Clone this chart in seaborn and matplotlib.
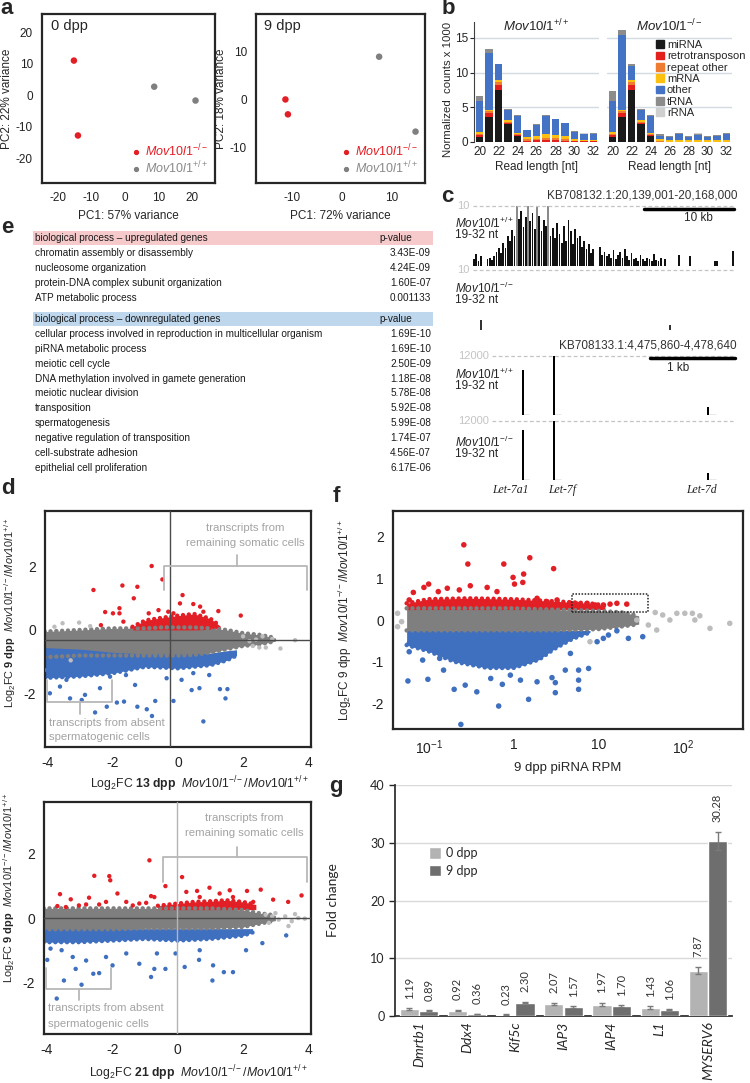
import numpy as np
import pandas as pd
import seaborn as sns
import matplotlib.pyplot as plt
from matplotlib.lines import Line2D
from matplotlib.patches import Patch, Rectangle
from matplotlib import font_manager

# ---------------- 数据 ----------------
# a: PCA
pca0_pc1 = [-15.2, -14.0, 8.7, 21.0]
pca0_pc2 = [11.0, -12.8, 2.7, -1.7]
pca9_pc1 = [-11.3, -10.8, 7.5, 14.8]
pca9_pc2 = [0.1, -3.0, 9.0, -6.6]
pca_geno = ['ko', 'ko', 'wt', 'wt']

# b: small RNA read length distribution (segment heights, x1000)
read_len = list(range(20, 33))
rna_cats = ['miRNA', 'retrotransposon', 'repeat other', 'mRNA', 'other', 'tRNA', 'rRNA']
rna_colors = ['#1a1a1a', '#e3211c', '#ee7d31', '#fdc010', '#4472c4', '#8c8c8c', '#cfcfcf']
wt_counts = {
    'miRNA':           [0.7, 3.6, 7.5, 2.6, 0.8, 0.05, 0.05, 0.05, 0.05, 0.05, 0.05, 0.05, 0.05],
    'retrotransposon': [0.3, 0.6, 0.7, 0.2, 0.2, 0.15, 0.25, 0.25, 0.25, 0.15, 0.05, 0.05, 0.05],
    'repeat other':    [0.2, 0.2, 0.5, 0.1, 0.1, 0.2, 0.2, 0.3, 0.3, 0.2, 0.1, 0.05, 0.05],
    'mRNA':            [0.2, 0.2, 0.3, 0.2, 0.2, 0.3, 0.4, 0.5, 0.4, 0.4, 0.2, 0.15, 0.15],
    'other':           [4.5, 8.3, 2.2, 1.5, 2.5, 1.0, 1.6, 2.7, 2.3, 1.9, 1.1, 0.8, 0.8],
    'tRNA':            [0.8, 0.5, 0.1, 0.1, 0.05, 0.05, 0.05, 0.05, 0.05, 0.1, 0.1, 0.1, 0.2],
    'rRNA':            [0, 0, 0, 0, 0, 0, 0, 0, 0, 0, 0, 0.05, 0.05],
}
ko_counts = {
    'miRNA':           [0.7, 3.6, 7.5, 2.6, 0.8, 0, 0, 0, 0, 0, 0, 0, 0],
    'retrotransposon': [0.3, 0.6, 0.7, 0.2, 0.2, 0.05, 0.02, 0.02, 0.02, 0.02, 0.02, 0.02, 0.02],
    'repeat other':    [0.2, 0.2, 0.5, 0.1, 0.1, 0.15, 0.05, 0.05, 0.05, 0.05, 0.05, 0.05, 0.05],
    'mRNA':            [0.2, 0.2, 0.3, 0.2, 0.2, 0.2, 0.2, 0.25, 0.2, 0.2, 0.2, 0.2, 0.2],
    'other':           [4.5, 10.8, 2.0, 1.5, 2.5, 0.5, 0.5, 0.85, 0.5, 0.7, 0.45, 0.55, 0.85],
    'tRNA':            [1.5, 0.8, 0.2, 0.1, 0.05, 0.2, 0.15, 0.15, 0.15, 0.15, 0.1, 0.15, 0.15],
    'rRNA':            [0, 0, 0, 0, 0, 0, 0, 0, 0, 0.15, 0, 0.05, 0.05],
}

# c: coverage tracks
cov1_kb = [i * 0.25 for i in range(116)]
cov1_wt = [1.2, 2.0, 0.8, 1.6, 0, 0, 1.2, 1.4, 1.0, 1.6, 2.4, 3.0,
           2.2, 3.8, 3.0, 5.0, 4.2, 6.0, 5.0, 10, 7.8, 9.2, 6.5, 8.2,
           10, 7.5, 8.8, 6.2, 10, 8.4, 5.8, 7.6, 6.6, 10, 5.0, 6.4,
           4.6, 7.2, 5.4, 3.8, 6.6, 4.2, 7.6, 5.8, 3.6, 6.2, 4.6, 5.0,
           3.2, 4.2, 2.8, 3.6, 2.2, 2.8, 0, 0, 3.1, 1.8, 2.4, 1.6,
           2.0, 1.4, 2.6, 1.2, 1.8, 2.4, 1.4, 2.8, 1.6, 1.0, 2.2, 1.2,
           1.4, 0.8, 1.8, 1.2, 0.9, 1.4, 1.1, 0.8, 2.0, 1.0, 0.8, 1.4,
           0, 1.2, 0, 0, 0, 0, 0, 1.9, 0, 0, 0, 0,
           1.6, 0, 0, 0, 0, 0, 0, 0, 0, 0, 0, 0.9,
           0.8, 0, 0, 0, 0, 0, 0, 2.5]
cov1_ko_kb = [0.9, 21.9]
cov1_ko = [1.7, 0.8]
let7_names = ['Let-7a1', 'Let-7f', 'Let-7d']
let7_pos = [305, 670, 2484]
let7_span = [70, 80, 100]
let7_wt = [9150, 12000, 1700]
let7_ko = [10200, 12000, 1400]

# e: GO terms
up_terms = ['chromatin assembly or disassembly', 'nucleosome organization',
            'protein-DNA complex subunit organization', 'ATP metabolic process']
up_pvals = ['3.43E-09', '4.24E-09', '1.60E-07', '0.001133']
down_terms = ['cellular process involved in reproduction in multicellular organism',
              'piRNA metabolic process', 'meiotic cell cycle',
              'DNA methylation involved in gamete generation', 'meiotic nuclear division',
              'transposition', 'spermatogenesis', 'negative regulation of transposition',
              'cell-substrate adhesion', 'epithelial cell proliferation']
down_pvals = ['1.69E-10', '1.69E-10', '2.50E-09', '1.18E-08', '5.78E-08',
              '5.92E-08', '5.99E-08', '1.74E-07', '4.56E-07', '6.17E-06']

# d (13 dpp vs 9 dpp): dense cores (x, low, high) + single points
d13_gray = ([-4.1, -3, -2, -1, -0.5, 0, 0.5, 1, 1.5, 2, 2.5, 3],
            [-0.85, -0.8, -0.8, -0.8, -0.8, -0.8, -0.78, -0.7, -0.6, -0.5, -0.45, -0.35],
            [-0.05, 0.0, 0.05, 0.05, 0.08, 0.08, 0.08, 0.05, 0.0, -0.1, -0.15, -0.25])
d13_red = ([-1.4, -1.0, -0.5, 0, 0.5, 1.0, 1.3],
           [0.0, 0.0, 0.0, 0.0, 0.0, 0.02, 0.05],
           [0.1, 0.3, 0.38, 0.45, 0.5, 0.35, 0.12])
d13_blue = ([-4.1, -3, -2, -1, 0, 1, 1.5, 1.8],
            [-1.5, -1.45, -1.35, -1.15, -1.2, -1.1, -0.95, -0.8],
            [-0.55, -0.6, -0.7, -0.75, -0.75, -0.72, -0.65, -0.62])
d13_red_pts = [(-0.81, 2.0), (-0.48, 1.58), (-2.6, 1.25), (-1.71, 1.39), (-1.25, 1.35),
               (-1.36, 0.99), (-2.24, 0.56), (-2.0, 0.52), (-1.8, 0.68), (-1.8, 0.52),
               (-2.37, 0.15), (-1.68, 0.26), (0.14, 1.09), (0.06, 0.83), (0.47, 0.81),
               (0.78, 0.57), (1.24, 0.59), (1.93, 0.45), (-0.9, 0.52), (-0.6, 0.62),
               (-0.3, 0.57), (0.93, 0.26), (1.08, 0.1), (0.68, 0.73), (-0.14, 0.52)]
d13_blue_pts = [(-3.94, -1.98), (-3.63, -1.77), (-3.32, -2.14), (-2.96, -2.19), (-2.86, -2.03),
                (-2.55, -2.58), (-2.19, -2.4), (-1.88, -2.27), (-1.66, -2.24), (-1.32, -1.72),
                (-1.25, -2.4), (-0.96, -2.48), (-0.8, -2.69), (-0.7, -2.22), (-0.14, -2.22),
                (0.11, -1.56), (0.42, -1.88), (0.66, -1.82), (0.78, -2.86), (1.29, -1.85),
                (1.52, -1.85), (1.46, -2.14), (1.24, -0.97), (0.96, -1.41), (-4.04, -1.25),
                (-3.43, -1.56), (-2.4, -1.82), (-2.09, -1.46), (-2.7, -1.3), (-1.6, -1.41),
                (0.47, -1.35), (-0.35, -1.51)]
d13_light_pts = [(-3.55, 0.21), (-3.04, 0.23), (2.0, -0.2), (2.2, -0.35), (2.4, -0.3),
                 (2.6, -0.2), (2.9, -0.28), (3.15, -0.58), (3.6, -0.32), (2.5, -0.55),
                 (2.7, -0.55), (2.3, -0.5), (-3.8, 0.1), (-2.7, 0.12), (-3.3, -0.95)]

# d (21 dpp vs 9 dpp)
d21_gray = ([-4.1, -3, -2, -1, 0, 1, 2, 2.5, 3.0],
            [-0.35, -0.35, -0.35, -0.32, -0.32, -0.32, -0.28, -0.18, -0.08],
            [0.3, 0.3, 0.3, 0.3, 0.3, 0.3, 0.25, 0.15, 0.08])
d21_red = ([-0.6, 0, 0.5, 1, 1.5, 2, 2.4],
           [0.26, 0.26, 0.26, 0.26, 0.26, 0.26, 0.26],
           [0.38, 0.45, 0.5, 0.52, 0.55, 0.5, 0.42])
d21_blue = ([-4.1, -3, -2, -1, 0, 1, 2, 2.3],
            [-0.75, -0.75, -0.7, -0.65, -0.7, -0.65, -0.55, -0.45],
            [-0.33, -0.33, -0.33, -0.33, -0.33, -0.33, -0.33, -0.33])
d21_red_pts = [(-0.86, 1.79), (-2.55, 1.31), (-2.09, 1.3), (-2.06, 1.17), (0.14, 1.27),
               (-0.37, 0.99), (-3.6, 0.74), (-3.27, 0.58), (-2.71, 0.63), (-1.84, 0.76),
               (-0.81, 0.68), (-0.71, 0.65), (0.6, 0.84), (0.98, 0.94), (1.6, 0.86),
               (2.13, 0.84), (2.55, 0.88), (2.93, 0.57), (3.39, 0.5), (3.8, 0.7),
               (-3.68, 0.37), (-3.42, 0.34), (-3.02, 0.39), (-2.8, 0.42), (-2.4, 0.42),
               (-2.19, 0.5), (-1.57, 0.5), (-1.37, 0.39), (-1.17, 0.45), (-0.96, 0.47),
               (0.27, 0.81), (0.68, 0.65), (1.29, 0.76), (1.7, 0.65), (2.32, 0.5)]
d21_blue_pts = [(-3.7, -2.5), (-3.48, -1.94), (-2.94, -2.07), (-2.4, -1.71), (-2.58, -1.73),
                (-1.99, -1.47), (-3.12, -1.58), (-3.99, -1.3), (-3.89, -0.95), (-3.55, -1.0),
                (-3.21, -1.21), (-2.8, -1.32), (-2.19, -1.21), (-0.81, -1.83), (-0.71, -1.58),
                (-1.17, -1.42), (-0.37, -1.58), (0.22, -1.52), (0.66, -1.3), (1.07, -1.94),
                (1.42, -1.68), (1.7, -1.68), (1.09, -1.47), (2.6, -0.78), (3.33, -0.54),
                (2.1, -1.0), (-0.06, -1.1), (0.68, -1.0), (-1.57, -1.1), (-0.63, -1.1)]
d21_light_pts = [(2.7, 0.1), (2.9, 0.05), (3.1, -0.05), (3.3, 0.05), (3.5, -0.1), (3.7, 0.0),
                 (3.9, -0.02), (3.0, 0.15), (2.8, -0.15), (3.4, -0.25), (3.6, 0.12)]

# f: piRNA RPM vs log2FC
f_gray = ([0.055, 0.1, 0.3, 1, 3, 10, 20, 30],
          [-0.25, -0.25, -0.25, -0.25, -0.25, -0.22, -0.15, -0.1],
          [0.28, 0.28, 0.28, 0.28, 0.25, 0.22, 0.18, 0.1])
f_red = ([0.055, 0.1, 0.3, 1, 3, 8, 12],
         [0.25, 0.25, 0.25, 0.25, 0.25, 0.25, 0.25],
         [0.4, 0.5, 0.52, 0.5, 0.45, 0.4, 0.35])
f_blue = ([0.055, 0.1, 0.2, 0.5, 1, 2, 3, 5, 8],
          [-0.6, -0.75, -1.0, -1.15, -1.15, -0.95, -0.7, -0.45, -0.3],
          [-0.25, -0.25, -0.25, -0.25, -0.25, -0.25, -0.25, -0.25, -0.25])
f_red_pts = [(0.26, 1.8), (0.29, 1.34), (0.77, 1.34), (1.56, 1.49), (2.98, 1.23), (0.99, 1.02),
             (1.32, 1.1), (1.03, 0.86), (1.29, 0.9), (0.088, 0.78), (0.1, 0.86), (0.066, 0.66),
             (0.13, 0.68), (0.166, 0.76), (0.23, 0.72), (0.31, 0.82), (0.49, 0.78), (0.64, 0.68),
             (21.7, 0.38), (16.6, 0.4), (11.5, 0.36), (7.4, 0.4), (5.6, 0.38), (9.2, 0.36),
             (13.8, 0.38), (0.059, 0.48), (3.27, 0.48), (1.9, 0.52), (2.49, 0.44), (4.7, 0.4)]
f_blue_pts = [(0.057, -1.46), (0.098, -1.42), (0.2, -1.66), (0.27, -1.56), (0.37, -1.72),
              (0.24, -2.5), (0.67, -2.06), (1.51, -1.9), (3.12, -1.74), (5.87, -1.66),
              (5.87, -1.44), (4.09, -1.2), (7.7, -1.16), (5.87, -1.2), (2.85, -1.38),
              (3.12, -1.5), (1.9, -1.48), (0.92, -1.32), (0.74, -1.54), (0.54, -1.4),
              (22.7, -0.44), (33.5, -0.4), (16.6, -0.26), (13.2, -0.36), (9.7, -0.52),
              (11.5, -0.44), (0.059, -0.56), (0.059, -0.76), (0.067, -0.6), (0.085, -0.96),
              (0.135, -0.92), (0.15, -1.2), (1.21, -1.44), (4.7, -0.8)]
f_light_pts = [(47, 0.18), (57.6, 0.12), (70, 0.0), (84.6, 0.16), (105, 0.16), (129, 0.16),
               (158, 0.1), (138, 0.0), (208, -0.2), (356, -0.08), (49, -0.24), (39, -0.12),
               (28.5, 0.0), (8, -0.52), (0.043, 0.16), (0.043, -0.16), (0.048, -0.04)]

# g: qPCR fold change
genes = ['Dmrtb1', 'Ddx4', 'Kif5c', 'IAP3', 'IAP4', 'L1', 'MYSERV6']
fc_0dpp = [1.19, 0.92, 0.23, 2.07, 1.97, 1.43, 7.87]
fc_9dpp = [0.89, 0.36, 2.30, 1.57, 1.70, 1.06, 30.28]
err_0dpp = [0.15, 0.12, 0.03, 0.25, 0.25, 0.25, 0.6]
err_9dpp = [0.1, 0.05, 0.12, 0.1, 0.12, 0.1, 1.6]

# ---------------- 样式 ----------------
sns.set_style("white")
plt.rcParams['font.family'] = ['Liberation Sans', 'DejaVu Sans']
plt.rcParams['axes.unicode_minus'] = False
plt.rcParams['mathtext.fontset'] = 'custom'
plt.rcParams['mathtext.rm'] = 'Liberation Sans'
plt.rcParams['mathtext.it'] = 'Liberation Sans:italic'
plt.rcParams['mathtext.bf'] = 'Liberation Sans:bold'
font_names = {f.name for f in font_manager.fontManager.ttflist}
NARROW = 'Liberation Sans Narrow' if 'Liberation Sans Narrow' in font_names else 'Liberation Sans'

RED = '#e31f26'
BLUE = '#3f6fbf'
GRAY = '#7f7f7f'
LIGHT = '#bdbdbd'
DARK = '#262626'
KO_LBL = r'$\mathit{Mov10l1}^{-/-}$'
WT_LBL = r'$\mathit{Mov10l1}^{+/+}$'

W, H = 750, 1083
fig = plt.figure(figsize=(W / 100, H / 100), dpi=100)


def px_axes(l, t, r, b):
    return fig.add_axes([l / W, 1 - b / H, (r - l) / W, (b - t) / H])


def px_text(x, y, s, **kw):
    fig.text(x / W, 1 - y / H, s, **kw)


def box_style(ax, lw=1.6):
    for sp in ax.spines.values():
        sp.set_visible(True)
        sp.set_linewidth(lw)
        sp.set_color(DARK)
    ax.tick_params(direction='out', length=3, width=1, color=DARK, colors='#222222')


# 面板字母
for letter, (x, y) in {'a': (0, -2), 'b': (442, -2), 'c': (441, 186), 'e': (1, 217),
                       'd': (1, 478), 'f': (333, 486), 'g': (329, 776)}.items():
    px_text(x, y, letter, fontsize=16, fontweight='bold', va='top', ha='left')

# ---------------- a ----------------
def pca_panel(ax, pc1, pc2, tag, xlim, ylim, ticksx, ticksy, xlab, ylab):
    df = pd.DataFrame({'pc1': pc1, 'pc2': pc2, 'geno': pca_geno})
    sns.scatterplot(data=df, x='pc1', y='pc2', hue='geno', palette={'ko': RED, 'wt': GRAY},
                    s=22, edgecolor='none', legend=False, ax=ax)
    ax.set_xlim(xlim)
    ax.set_ylim(ylim)
    ax.set_xticks(ticksx)
    ax.set_yticks(ticksy)
    ax.tick_params(labelsize=8.5)
    box_style(ax)
    ax.set_xlabel(xlab, fontsize=8.5)
    ax.xaxis.set_label_coords(0.5, -0.16)
    ax.set_ylabel(ylab, fontsize=8.5)
    ax.yaxis.set_label_coords(-0.17, 0.5)
    ax.text(0.05, 0.93, tag, transform=ax.transAxes, fontsize=10.5, va='center')
    hs = [Line2D([], [], marker='o', ls='', color=RED, markersize=2.8),
          Line2D([], [], marker='o', ls='', color=GRAY, markersize=2.8)]
    ax.legend(hs, [KO_LBL, WT_LBL], loc='lower right', bbox_to_anchor=(0.96, 0.04),
              frameon=False, fontsize=9, handletextpad=0.2, labelspacing=0.05,
              borderpad=0, borderaxespad=0, handlelength=1, labelcolor=[RED, '#8a8a8a'])


ax_a1 = px_axes(42, 14, 215, 183)
pca_panel(ax_a1, pca0_pc1, pca0_pc2, '0 dpp', (-24.7, 26.8), (-27.9, 25.8),
          [-20, -10, 0, 10, 20], [-20, -10, 0, 10, 20], 'PC1: 57% variance', 'PC2: 22% variance')
ax_a2 = px_axes(256, 14, 425, 183)
pca_panel(ax_a2, pca9_pc1, pca9_pc2, '9 dpp', (-17.2, 16.7), (-17.3, 17.9),
          [-10, 0, 10], [-10, 0, 10], 'PC1: 72% variance', 'PC2: 18% variance')

# ---------------- b ----------------
ax_b1 = px_axes(474, 22, 599, 142)
ax_b2 = px_axes(607, 22, 732, 142)
for ax, counts, title in [(ax_b1, wt_counts, WT_LBL), (ax_b2, ko_counts, KO_LBL)]:
    bottom = np.zeros(len(read_len))
    for cat, col in zip(rna_cats, rna_colors):
        ax.bar(read_len, counts[cat], bottom=bottom, width=0.8, color=col, lw=0, zorder=3)
        bottom += np.array(counts[cat])
    ax.set_xlim(19.4, 32.6)
    ax.set_ylim(0, 17.3)
    ax.set_yticks([0, 5, 10, 15])
    ax.yaxis.grid(True, color='#d3dae2', lw=1)
    ax.set_axisbelow(True)
    ax.set_xticks(read_len[::2])
    ax.tick_params(axis='x', length=0, labelsize=8.5, pad=3)
    ax.set_xlabel('Read length [nt]', fontsize=8.5, labelpad=2)
    ax.set_title(title, fontsize=9.5, pad=2, y=0.9)
    for sp in ['top', 'right', 'left', 'bottom']:
        ax.spines[sp].set_visible(False)
ax_b1.spines['left'].set_visible(True)
ax_b1.spines['left'].set_color('#404040')
ax_b1.tick_params(axis='y', length=3, labelsize=8.5, pad=1, direction='out', left=True)
ax_b1.set_ylabel('Normalized  counts x 1000', fontsize=8.2)
ax_b1.yaxis.set_label_coords(-0.165, 0.44)
ax_b2.set_yticks([0, 5, 10, 15])
ax_b2.tick_params(axis='y', length=0, labelleft=False)
ax_b2.legend([Patch(color=c) for c in rna_colors], rna_cats, loc='upper left',
             bbox_to_anchor=(0.39, 0.85), frameon=False, fontsize=8, handlelength=0.7,
             handleheight=0.7, handletextpad=0.3, labelspacing=0.12, borderpad=0, borderaxespad=0)

# ---------------- c ----------------
TRK = '#c4c4c4'


def track_axes(box, xlim, ymax, lab):
    ax = px_axes(*box)
    ax.set_xlim(xlim)
    ax.set_ylim(0, ymax)
    ax.axis('off')
    ax.axhline(ymax, color=TRK, ls=(0, (3, 2)), lw=0.9, clip_on=False)
    ax.text(-0.012, 1.0, lab, transform=ax.transAxes, ha='right', va='center', color=TRK, fontsize=8)
    return ax


px_text(737, 196, 'KB708132.1:20,139,001-20,168,000', ha='right', va='center', fontsize=8.5, color='#333333')
t1 = track_axes((473, 206, 734, 266), (0, 29), 10, '10')
cov_cols = ['#8a8a8a' if v >= 10 else '#111111' for v in cov1_wt]
t1.bar(cov1_kb, np.minimum(cov1_wt, 10), width=0.2, color=cov_cols, lw=0, align='edge')
t1.plot([19, 29], [9.5, 9.5], color='black', lw=2.5, clip_on=False)
t1.text(25, 8.0, '10 kb', ha='center', va='center', fontsize=8.5)
t2 = track_axes((473, 270, 734, 330), (0, 29), 10, '10')
t2.bar(cov1_ko_kb, cov1_ko, width=0.15, color='#333333', lw=0)
px_text(455, 223, WT_LBL, fontsize=8.5, va='center')
px_text(455, 235, '19-32 nt', fontsize=8.5, va='center')
px_text(455, 288, KO_LBL, fontsize=8.5, va='center')
px_text(455, 300, '19-32 nt', fontsize=8.5, va='center')

px_text(737, 345, 'KB708133.1:4,475,860-4,478,640', ha='right', va='center', fontsize=8.5, color='#333333')
let7_tracks = []
for box, vals, lab, lab_y in [((492, 356, 733, 415), let7_wt, WT_LBL, 374),
                              ((492, 421, 733, 480), let7_ko, KO_LBL, 442)]:
    t = track_axes(box, (-60, 2780), 12000, '12000')
    t.bar(let7_pos, vals, width=22, color='black', lw=0)
    t.hlines([0] * 3, let7_pos, [p + s for p, s in zip(let7_pos, let7_span)], color='#555555', lw=0.9)
    px_text(455, lab_y, lab, fontsize=8.5, va='center')
    px_text(455, lab_y + 12, '19-32 nt', fontsize=8.5, va='center')
    let7_tracks.append(t)
let7_tracks[0].plot([1800, 2800], [11600, 11600], color='black', lw=2.5, clip_on=False)
let7_tracks[0].text(2130, 9500, '1 kb', ha='center', va='center', fontsize=8.5)
for name, p, ha, dx in zip(let7_names, let7_pos, ['right', 'left', 'center'], [70, -70, -70]):
    let7_tracks[1].text(p + dx, -900, name, ha=ha, va='top', fontsize=8.5, style='italic',
                        family=['Liberation Serif', 'DejaVu Serif'], color='#222222')

# ---------------- e ----------------
ax_e = px_axes(0, 215, 440, 480)
ax_e.set_xlim(0, 440)
ax_e.set_ylim(480, 215)
ax_e.axis('off')
efont = dict(family=[NARROW, 'DejaVu Sans'], fontsize=7.2, va='center', color='#1a1a1a')


def go_block(y0, step, header, band, terms, pvals):
    ax_e.add_patch(Rectangle((33, y0 - 7), 400, 14, color=band, lw=0))
    ax_e.text(35, y0, header, **efont)
    ax_e.text(412, y0, 'p-value', ha='right', **efont)
    for i, (term, p) in enumerate(zip(terms, pvals)):
        y = y0 + step * (i + 1)
        ax_e.text(35, y, term, **efont)
        ax_e.text(431, y, p, ha='right', **efont)


go_block(238, 15, 'biological process \u2013 upregulated genes', '#f6c9cb', up_terms, up_pvals)
go_block(319, 14.9, 'biological process \u2013 downregulated genes', '#bed7ec', down_terms, down_pvals)

# ---------------- d ----------------
d_ylab = r'Log$_2$FC $\mathbf{9\ dpp}$  $\mathit{Mov10l1}^{-/-}/\mathit{Mov10l1}^{+/+}$'
BR = '#b8b8b8'
TXT = '#a3a3a3'
FUZZ = dict(lw=3.2, ls=(0, (0.01, 1.3)), dash_capstyle='round', zorder=2)


def core_and_points(ax, bands, red_pts, blue_pts, light_pts, s):
    gb, rb, bb = bands
    for (bx, lo, hi), col in zip(bands, [GRAY, RED, BLUE]):
        ax.fill_between(bx, lo, hi, color=col, lw=0, zorder=2)
    # 点状的边缘
    ax.plot(gb[0], gb[1], color=GRAY, **FUZZ)
    ax.plot(gb[0], gb[2], color=GRAY, **FUZZ)
    ax.plot(rb[0], rb[2], color=RED, **FUZZ)
    ax.plot(bb[0], bb[1], color=BLUE, **FUZZ)
    pts = pd.DataFrame(
        [(x, y, 'light') for x, y in light_pts] + [(x, y, 'red') for x, y in red_pts] +
        [(x, y, 'blue') for x, y in blue_pts], columns=['x', 'y', 'cls'])
    sns.scatterplot(data=pts, x='x', y='y', hue='cls', palette={'light': LIGHT, 'red': RED, 'blue': BLUE},
                    s=s, edgecolor='none', legend=False, ax=ax, zorder=3)


def ma_panel(box, bands, red_pts, blue_pts, light_pts, hline, vline, vcol, xlab, ylab_y, brk):
    ax = px_axes(*box)
    core_and_points(ax, bands, red_pts, blue_pts, light_pts, 10)
    ax.set_xlim(-4.09, 4.09)
    ax.set_ylim(brk['ylim'])
    ax.axhline(hline, color='#4a4a4a', lw=1, zorder=4)
    ax.axvline(vline, color=vcol, lw=1, zorder=4)
    ax.set_xticks([-4, -2, 0, 2, 4])
    ax.set_yticks([-2, 0, 2])
    ax.tick_params(labelsize=10)
    box_style(ax)
    ax.set_xlabel(xlab, fontsize=8.8)
    ax.xaxis.set_label_coords(0.58, brk['xlab_y'])
    ax.set_ylabel(d_ylab, fontsize=7.9)
    ax.yaxis.set_label_coords(-0.1, ylab_y)
    # brackets
    h, leg, tick = brk['som']
    ax.plot([-0.43, -0.43, 3.97, 3.97], [leg, h, h, leg], color=BR, lw=1.3, zorder=5)
    ax.plot([1.82, 1.82], [h, tick], color=BR, lw=1.3, zorder=5)
    ax.text(2.06, brk['som_t'][0], 'transcripts from', ha='center', va='center',
            color=TXT, fontsize=8.2, family=[NARROW])
    ax.text(2.06, brk['som_t'][1], 'remaining somatic cells', ha='center', va='center',
            color=TXT, fontsize=8.2, family=[NARROW])
    h, leg, tick = brk['abs']
    ax.plot([-4.03, -4.03, -2.03, -2.03], [leg, h, h, leg], color=BR, lw=1.3, zorder=5)
    ax.plot([-3.02, -3.02], [h, tick], color=BR, lw=1.3, zorder=5)
    ax.text(-3.97, brk['abs_t'][0], 'transcripts from absent', ha='left', va='center',
            color=TXT, fontsize=8.2, family=[NARROW])
    ax.text(-3.97, brk['abs_t'][1], 'spermatogenic cells', ha='left', va='center',
            color=TXT, fontsize=8.2, family=[NARROW])
    return ax


ma_panel((45, 511, 311, 747), [d13_gray, d13_red, d13_blue], d13_red_pts, d13_blue_pts, d13_light_pts,
         -0.31, -0.25, '#4a4a4a',
         r'Log$_2$FC $\mathbf{13\ dpp}$  $\mathit{Mov10l1}^{-/-}/\mathit{Mov10l1}^{+/+}$', 0.57,
         dict(ylim=(-3.66, 3.72), xlab_y=-0.115, som=(2.0, 1.25, 2.33), som_t=(3.19, 2.72),
              abs=(-2.25, -1.56, -2.63), abs_t=(-2.9, -3.34)))
ma_panel((44, 802, 311, 1034), [d21_gray, d21_red, d21_blue], d21_red_pts, d21_blue_pts, d21_light_pts,
         0.0, 0.0, '#b5b5b5',
         r'Log$_2$FC $\mathbf{21\ dpp}$  $\mathit{Mov10l1}^{-/-}/\mathit{Mov10l1}^{+/+}$', 0.63,
         dict(ylim=(-3.6, 3.6), xlab_y=-0.125, som=(1.89, 1.11, 2.2), som_t=(3.1, 2.63),
              abs=(-2.2, -1.55, -2.54), abs_t=(-2.79, -3.28)))

# ---------------- f ----------------
ax_f = px_axes(393, 511, 743, 729)
ax_f.set_xscale('log')
core_and_points(ax_f, [f_gray, f_red, f_blue], f_red_pts, f_blue_pts, f_light_pts, 16)
ax_f.set_xlim(0.038, 510)
ax_f.set_ylim(-2.61, 2.61)
ax_f.set_xticks([0.1, 1, 10, 100])
ax_f.set_xticklabels([r'10$^{-1}$', '1', '10', r'10$^{2}$'])
ax_f.minorticks_off()
ax_f.set_yticks([-2, -1, 0, 1, 2])
ax_f.tick_params(labelsize=10)
box_style(ax_f)
ax_f.add_patch(Rectangle((4.9, 0.18), 39 - 4.9, 0.44, fill=False, ls=(0, (1, 1)), lw=1.1,
                         color='#222222', zorder=6))
ax_f.set_xlabel('9 dpp piRNA RPM', fontsize=9.5)
ax_f.xaxis.set_label_coords(0.5, -0.15)
ax_f.set_ylabel(r'Log$_2$FC 9 dpp  $\mathit{Mov10l1}^{-/-}/\mathit{Mov10l1}^{+/+}$', fontsize=8.5)
ax_f.yaxis.set_label_coords(-0.11, 0.5)

# ---------------- g ----------------
ax_g = px_axes(395, 785, 732, 1016)
g_df = pd.DataFrame({'gene': genes * 2, 'stage': ['0 dpp'] * 7 + ['9 dpp'] * 7,
                     'fc': fc_0dpp + fc_9dpp})
sns.barplot(data=g_df, x='gene', y='fc', hue='stage', palette=['#b3b3b3', '#6e6e6e'],
            width=0.8, errorbar=None, saturation=1, ax=ax_g, zorder=3)
for cont, errs in zip(ax_g.containers, [err_0dpp, err_9dpp]):
    for bar, e in zip(cont, errs):
        x = bar.get_x() + bar.get_width() / 2
        v = bar.get_height()
        ax_g.errorbar(x, v, yerr=e, color='#7a7a7a', capsize=2.5, lw=1, zorder=4)
        ax_g.annotate(f'{v:.2f}', (x, v + e), xytext=(0, 7), textcoords='offset points',
                      rotation=90, ha='center', va='bottom', fontsize=8, family=['Lato', 'DejaVu Sans'],
                      color='#333333')
ax_g.set_ylim(0, 40)
ax_g.set_xlim(-0.5, 6.5)
ax_g.set_yticks([0, 10, 20, 30, 40])
ax_g.yaxis.grid(True, color='#d9d9d9', lw=1)
ax_g.set_axisbelow(True)
for sp in ['top', 'right']:
    ax_g.spines[sp].set_visible(False)
for sp in ['left', 'bottom']:
    ax_g.spines[sp].set_visible(True)
    ax_g.spines[sp].set_color('#333333')
    ax_g.spines[sp].set_linewidth(1.3)
ax_g.set_xticks(range(len(genes)))
ax_g.set_xticklabels(genes, rotation=90, style='italic', fontsize=10, family=['Lato', 'DejaVu Sans'])
ax_g.set_xticks(np.arange(-0.5, 7, 1), minor=True)
ax_g.tick_params(axis='x', which='major', length=0, pad=4)
ax_g.tick_params(axis='x', which='minor', length=4, width=1.2, color='#333333', direction='out')
ax_g.tick_params(axis='y', length=4, width=1, direction='out', left=True, labelsize=9)
for lbl in ax_g.get_yticklabels():
    lbl.set_family(['Lato', 'DejaVu Sans'])
ax_g.set_xlabel('')
ax_g.set_ylabel('Fold change', fontsize=10, family=['Lato', 'DejaVu Sans'])
ax_g.yaxis.set_label_coords(-0.165, 0.5)
ax_g.legend(loc='upper left', bbox_to_anchor=(0.1, 0.73), frameon=False,
            handlelength=1.0, handleheight=1.0, handletextpad=0.4, labelspacing=0.45,
            borderpad=0, borderaxespad=0, prop={'family': ['Lato', 'DejaVu Sans'], 'size': 9})

fig.savefig('out.png', dpi=100)
